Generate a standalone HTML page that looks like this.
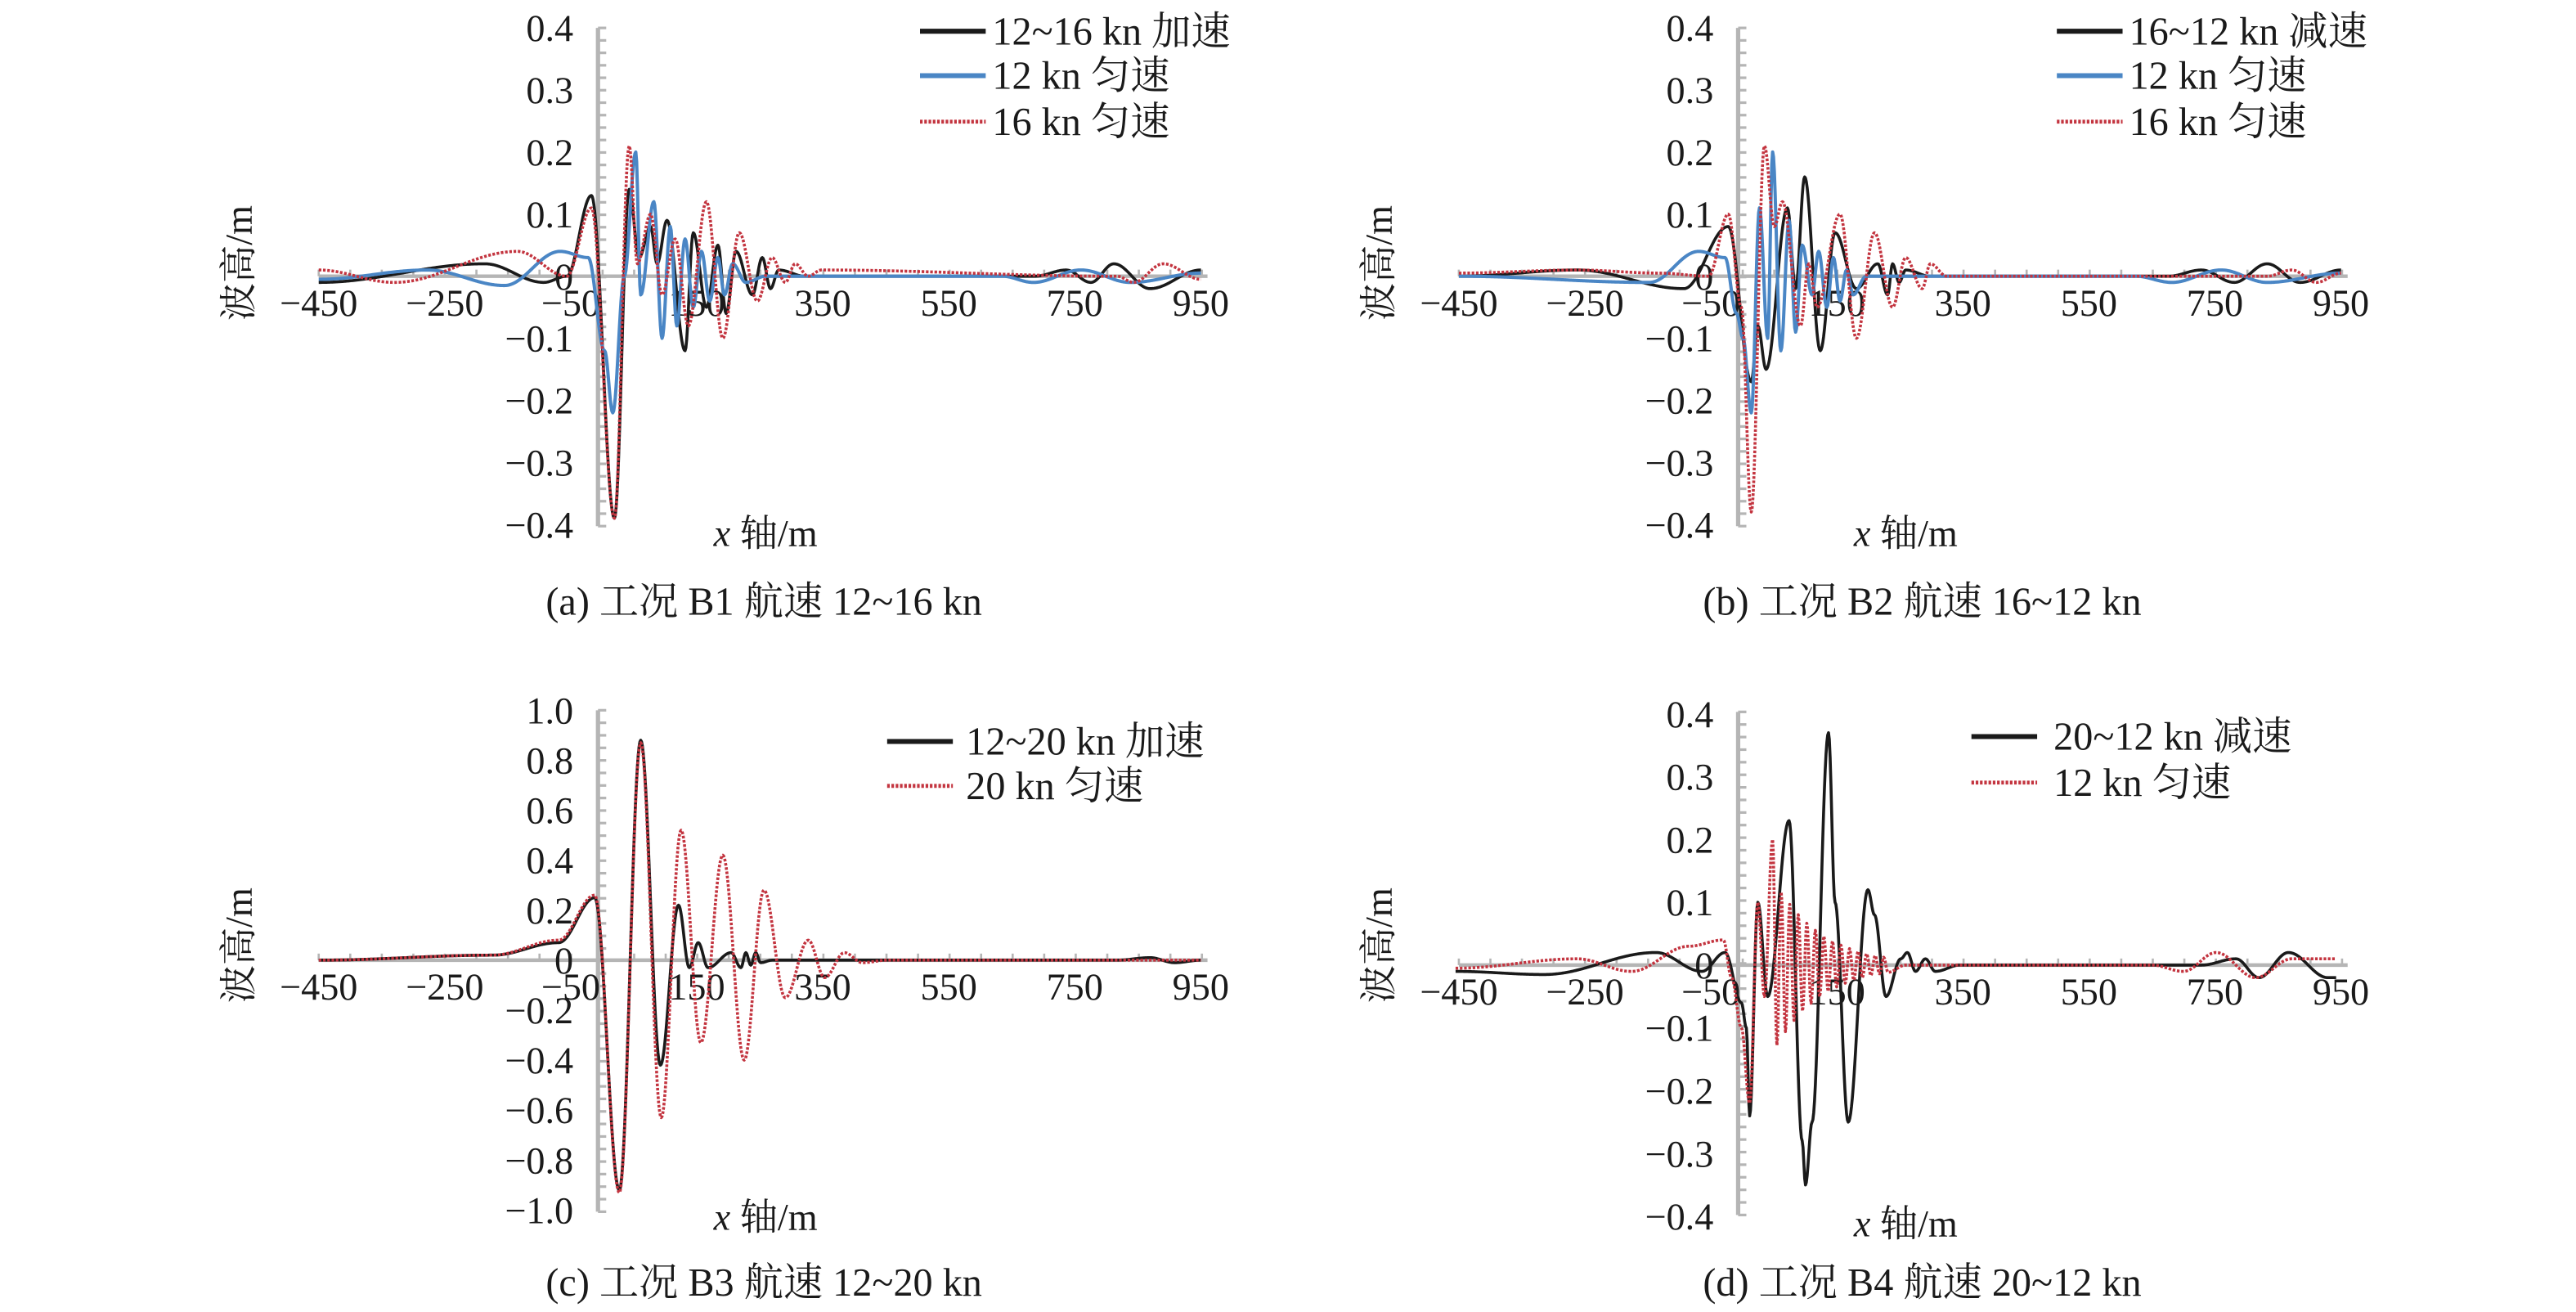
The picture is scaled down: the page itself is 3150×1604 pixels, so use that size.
<!DOCTYPE html>
<html><head><meta charset="utf-8"><style>
html,body{margin:0;padding:0;background:#fff;}
svg{display:block;}
text{font-family:"Liberation Serif","Noto Serif CJK SC","Noto Sans CJK SC",serif;fill:#1a1a1a;}
</style></head><body>
<svg id="s" xmlns="http://www.w3.org/2000/svg" width="3150" height="1604" viewBox="0 0 1568 798" preserveAspectRatio="none">
<g id="g"></g>
<text x="465" y="374" font-size="24" text-anchor="middle">(a) 工况 B1 航速 12~16 kn</text>
<text x="1170" y="374" font-size="24" text-anchor="middle">(b) 工况 B2 航速 16~12 kn</text>
<text x="465" y="788" font-size="24" text-anchor="middle">(c) 工况 B3 航速 12~20 kn</text>
<text x="1170" y="788" font-size="24" text-anchor="middle">(d) 工况 B4 航速 20~12 kn</text>
</svg>
<script>
var NS="http://www.w3.org/2000/svg",G=document.getElementById('g');
function el(t,a,txt){var e=document.createElementNS(NS,t);for(var k in a)e.setAttribute(k,a[k]);if(txt!=null)e.textContent=txt;G.appendChild(e);return e;}
function series(pts,y0,sc,style){
  var d="";
  for(var i=0;i<pts.length-1;i++){
    var a=pts[i],b=pts[i+1];var n=Math.max(2,Math.ceil((b[0]-a[0])*2));
    for(var j=(i==0?0:1);j<=n;j++){var t=j/n;var x=a[0]+(b[0]-a[0])*t;var y=a[1]+(b[1]-a[1])*(1-Math.cos(Math.PI*t))/2;
      d+=(d?"L":"M")+x.toFixed(2)+" "+(y0-y*sc).toFixed(2);}
  }
  var at={d:d,fill:"none","stroke-linejoin":"round"};for(var k in style)at[k]=style[k];el("path",at);
}
var BLK={stroke:"#1a1a1a","stroke-width":1.8},BLU={stroke:"#4a86c5","stroke-width":2},RED={stroke:"#c3343f","stroke-width":1.8,"stroke-dasharray":"1.6 1"};
function panel(ox,y0,sc,ymax,step,fmt,top,bot,ylabCy,xlabY){
  var ax=364+ox;
  el("line",{x1:194+ox,x2:735+ox,y1:y0,y2:y0,stroke:"#b5b5b5","stroke-width":2.2});
  for(var i=0;i<=28;i++){var x=194+ox+i*19.2;el("line",{x1:x,x2:x,y1:y0,y2:y0-4,stroke:"#b5b5b5","stroke-width":1.3});}
  el("line",{x1:ax,x2:ax,y1:top,y2:bot,stroke:"#b5b5b5","stroke-width":2.6});
  var nt=40;for(var i=0;i<=nt;i++){var y=top+(bot-top)*i/nt;el("line",{x1:ax,x2:ax+5,y1:y,y2:y,stroke:"#b5b5b5","stroke-width":1.6});}
  for(var v=ymax;v>=-ymax-1e-9;v-=step){var y=y0-v*sc;var s=Math.abs(v)<1e-9?"0":(v<0?"−":"")+fmt(Math.abs(v));
    el("text",{x:349+ox,y:y+8,"font-size":23,"text-anchor":"end"},s);}
  var xl=[-450,-250,-50,150,350,550,750,950];
  for(var i=0;i<8;i++){var s=(xl[i]<0?"−":"")+Math.abs(xl[i]);el("text",{x:194+ox+i*76.7,y:y0+24,"font-size":23,"text-anchor":"middle"},s);}
  el("text",{x:0,y:0,"font-size":23,"text-anchor":"middle",transform:"translate("+(153+ox)+","+ylabCy+") rotate(-90)"},"波高/m");
  var xt=el("text",{x:466+ox,y:xlabY,"font-size":23,"text-anchor":"middle"});
  var a=document.createElementNS(NS,"tspan");a.setAttribute("font-style","italic");a.textContent="x";xt.appendChild(a);
  xt.appendChild(document.createTextNode(" 轴/m"));
}
function legend(x1,x2,tx,items){
  items.forEach(function(it){var st={};for(var k in it[1])st[k]=it[1][k];st["stroke-width"]=it[1]==RED?2.4:3;
    var at={x1:x1,x2:x2,y1:it[0],y2:it[0]};for(var k in st)at[k]=st[k];el("line",at);
    el("text",{x:tx,y:it[0]+8,"font-size":24},it[2]);});
}
var f1=function(v){return v.toFixed(1)};
panel(0,168,377.5,0.4,0.1,f1,17,320,160,332);
panel(694,168,377.5,0.4,0.1,f1,17,320,160,332);
panel(0,584,152,1.0,0.2,f1,432,737,575,748);
panel(694,587,382,0.4,0.1,f1,433,739,575,752);
legend(560,600,604,[[19,BLK,"12~16 kn 加速"],[46,BLU,"12 kn 匀速"],[74,RED,"16 kn 匀速"]]);
legend(1252,1292,1296,[[19,BLK,"16~12 kn 减速"],[46,BLU,"12 kn 匀速"],[74,RED,"16 kn 匀速"]]);
legend(540,580,588,[[451,BLK,"12~20 kn 加速"],[478,RED,"20 kn 匀速"]]);
legend(1200,1240,1250,[[448,BLK,"20~12 kn 减速"],[476,RED,"12 kn 匀速"]]);
// Panel a
series([[194,-0.01],[295,0.02],[331,-0.01],[345,0.0],[360,0.13],[374,-0.39],[383,0.14],[389,0.03],[396,0.08],[400,0.02],[406,0.09],[417,-0.12],[422,0.07],[430,-0.05],[437,0.05],[442,-0.06],[448,0.04],[458,-0.03],[464,0.03],[469,-0.02],[474,0.01],[490,0],[630,0],[649,0.01],[664,-0.01],[678,0.02],[700,-0.02],[731,0.01]],168,377.5,BLK);
series([[194,-0.005],[260,0.01],[307,-0.015],[341,0.04],[358,0.03],[368,-0.12],[373,-0.22],[380,0.0],[387,0.2],[390,-0.03],[398,0.12],[403,-0.1],[408,0.08],[412,-0.08],[417,0.06],[422,-0.05],[427,0.04],[432,-0.04],[437,0.03],[441,-0.03],[446,0.02],[454,-0.01],[466,0],[610,0],[629,-0.01],[658,0.01],[688,-0.01],[731,0.005]],168,377.5,BLU);
series([[194,0.01],[240,-0.01],[315,0.04],[345,0.0],[360,0.11],[374,-0.39],[383,0.21],[388,0.02],[396,0.1],[403,-0.03],[411,0.06],[419,-0.08],[430,0.12],[440,-0.1],[450,0.07],[461,-0.04],[470,0.03],[478,-0.01],[484,0.02],[492,0],[500,0.01],[680,0],[690,-0.01],[708,0.02],[731,-0.005]],168,377.5,RED);
// Panel b
series([[888,0.0],[960,0.01],[1025,-0.02],[1052,0.08],[1066,-0.17],[1070,-0.08],[1075,-0.15],[1088,0.11],[1093,-0.02],[1098.5,0.16],[1108,-0.12],[1117,0.07],[1130,-0.02],[1143,0.02],[1149,-0.03],[1152,0.02],[1156,-0.01],[1160,0.01],[1175,0],[1320,0],[1340,0.01],[1360,-0.01],[1380,0.02],[1400,-0.01],[1425,0.01]],168,377.5,BLK);
series([[888,0.0],[1004,-0.01],[1034,0.04],[1050,0.03],[1057,-0.06],[1061,-0.1],[1066,-0.22],[1071,0.11],[1076,-0.1],[1079,0.2],[1084,-0.12],[1089,0.09],[1093,-0.09],[1097,0.05],[1103,-0.03],[1107,0.04],[1112,-0.05],[1116,0.03],[1120,-0.04],[1124,0.01],[1128,-0.03],[1136,0],[1300,0],[1322,-0.01],[1352,0.01],[1380,-0.01],[1425,0.005]],168,377.5,BLU);
series([[888,0.005],[960,0.01],[1010,0.005],[1040,0],[1052,0.1],[1060,-0.05],[1066,-0.38],[1074,0.21],[1080,0.08],[1085,0.12],[1096,-0.08],[1101,0.02],[1106,-0.05],[1120,0.1],[1130,-0.1],[1141,0.07],[1152,-0.05],[1160,0.03],[1170,-0.02],[1175,0.02],[1185,0],[1380,0],[1395,0.01],[1410,-0.01],[1425,0.005]],168,377.5,RED);
// Panel c
series([[194,0],[300,0.02],[340,0.07],[362,0.25],[377,-0.92],[390,0.88],[402,-0.42],[413,0.22],[419.6,-0.03],[425,0.07],[431,-0.03],[445,0.03],[451,-0.03],[454,0.03],[457,-0.02],[460,0.03],[463,-0.01],[470,0],[680,0],[700,0.01],[715,-0.01],[731,0]],584,152,BLK);
series([[194,0],[300,0.02],[340,0.08],[362,0.26],[377,-0.93],[390,0.87],[402.5,-0.63],[414.6,0.52],[426.6,-0.33],[440,0.42],[453,-0.4],[465,0.28],[478,-0.15],[492,0.08],[502,-0.07],[514,0.03],[525,-0.01],[540,0],[731,0]],584,152,RED);
// Panel d
series([[886,-0.01],[940,-0.015],[1008,0.02],[1036,-0.01],[1050,0.02],[1060,-0.06],[1063,-0.1],[1065,-0.24],[1070,0.1],[1076,-0.05],[1089,0.23],[1097,-0.28],[1099,-0.35],[1103,-0.25],[1113,0.37],[1117,0.1],[1125,-0.25],[1137,0.12],[1141,0.08],[1148,-0.05],[1157,0.01],[1161,0.02],[1166,-0.01],[1172,0.01],[1178,-0.01],[1193,0],[1340,0],[1361,0.01],[1375,-0.02],[1393,0.02],[1417,-0.02],[1422,-0.02]],587,382,BLK);
(function(){var p=[[886,-0.005],[960,0.01],[993,-0.01],[1028,0.03],[1049,0.04],[1054,-0.02],[1060,-0.1],[1065,-0.22],[1070,0.1],[1074,-0.05],[1079,0.2]];
var x=1079,s=-1;while(x<1148){x+=2.6;var amp=0.14*Math.exp(-(x-1079)/28);p.push([x,s*amp]);s=-s;}
p=p.concat([[1160,0],[1310,0],[1329,-0.01],[1349,0.02],[1373,-0.02],[1395,0.01],[1422,0.01]]);
series(p,587,382,RED);})();
</script>
</body></html>
